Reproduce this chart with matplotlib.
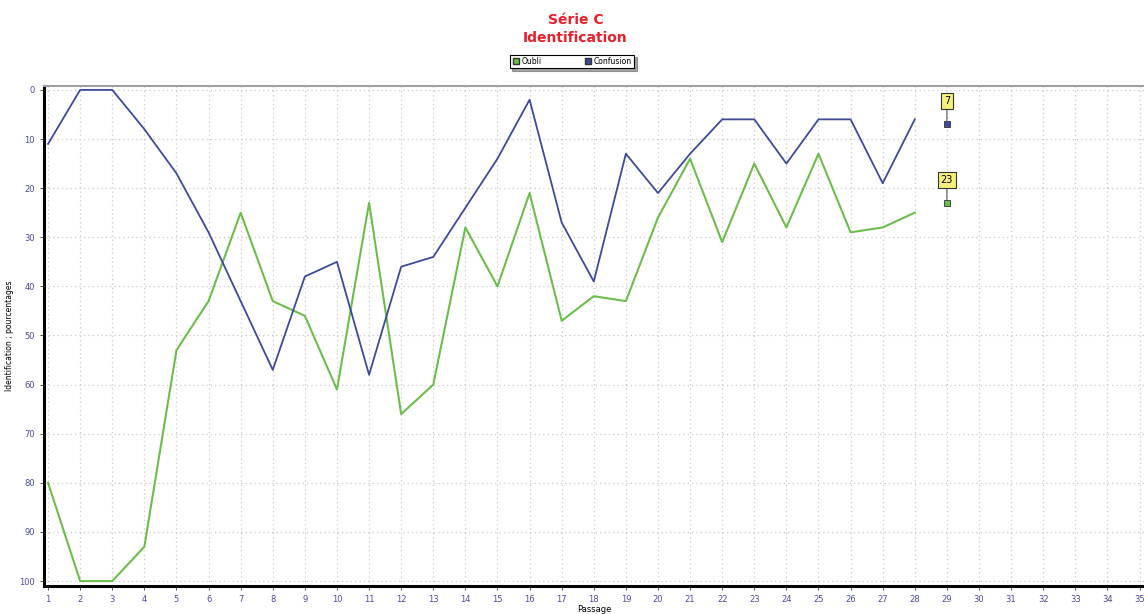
import matplotlib
matplotlib.use('Agg')
import matplotlib.pyplot as plt
from matplotlib.lines import Line2D

# data (percentages, y axis inverted)
passages = list(range(1, 29))
oubli = [80, 100, 100, 93, 53, 43, 25, 43, 46, 61, 23, 66, 60, 28, 40, 21,
         47, 42, 43, 26, 14, 31, 15, 28, 13, 29, 28, 25]
confusion = [11, 0, 0, 8, 17, 29, 43, 57, 38, 35, 58, 36, 34, 24, 14, 2,
             27, 39, 13, 21, 13, 6, 6, 15, 6, 6, 19, 6]
last_passage = 29
last_oubli = 23
last_confusion = 7
x_ticks = list(range(1, 36))
y_ticks = list(range(0, 101, 10))

green = '#6cbd4c'
blue = '#3c4a9c'
tick_col = '#4a4aa0'

fig = plt.figure(figsize=(11.44, 6.14), dpi=100)
ax = fig.add_axes([0.0385, 0.0456, 0.9615, 0.8144])

ax.plot(passages, oubli, color=green, lw=1.5)
ax.plot(passages, confusion, color=blue, lw=1.3)

# last values shown as square markers with yellow labels
for val, col in [(last_confusion, blue), (last_oubli, green)]:
    ax.plot(last_passage, val, 's', color=col, mec='#333333', mew=0.6, ms=5)
    ax.annotate(str(val), xy=(last_passage, val), xytext=(0, 13),
                textcoords='offset points', ha='center', va='bottom',
                fontsize=7,
                bbox=dict(boxstyle='square,pad=0.3', fc='#f5f07a', ec='#333333', lw=0.8),
                arrowprops=dict(arrowstyle='-', color='#555555', lw=0.8,
                                shrinkA=0, shrinkB=2))

ax.set_xlim(0.875, 35.14)
ax.set_ylim(101.0, -0.8)
ax.set_xticks(x_ticks)
ax.set_yticks(y_ticks)
ax.tick_params(labelsize=6, colors='#333333', labelcolor=tick_col, length=3, width=0.6)
ax.grid(True, color='#c8c8c8', ls=(0, (1, 2.5)), lw=0.9)

ax.spines['left'].set_linewidth(2.2)
ax.spines['bottom'].set_linewidth(2.2)
ax.spines['top'].set_color('#a0a0a0')
ax.spines['top'].set_linewidth(1.5)
ax.spines['right'].set_visible(False)

ax.set_xlabel('Passage', fontsize=6, labelpad=1)
ax.set_ylabel('Identification ; pourcentages', fontsize=5.5, labelpad=4)

fig.text(0.503, 0.967, 'Série C', color='#e8202a', fontsize=10, fontweight='bold', ha='center', va='center')
fig.text(0.503, 0.938, 'Identification', color='#e8202a', fontsize=10, fontweight='bold', ha='center', va='center')

handles = [Line2D([], [], ls='none', marker='s', color=green, mec='#333333', ms=4),
           Line2D([], [], ls='none', marker='s', color=blue, mec='#333333', ms=4)]
leg = fig.legend(handles, ['Oubli', 'Confusion'], loc='center', bbox_to_anchor=(0.5, 0.9),
                 ncol=2, fontsize=5.5, frameon=True, fancybox=False, shadow=True,
                 handletextpad=0.3, columnspacing=5.5, borderpad=0.3, handlelength=1)
leg.get_frame().set_edgecolor('black')
leg.get_frame().set_linewidth(0.8)

fig.savefig('out.png', dpi=100)
